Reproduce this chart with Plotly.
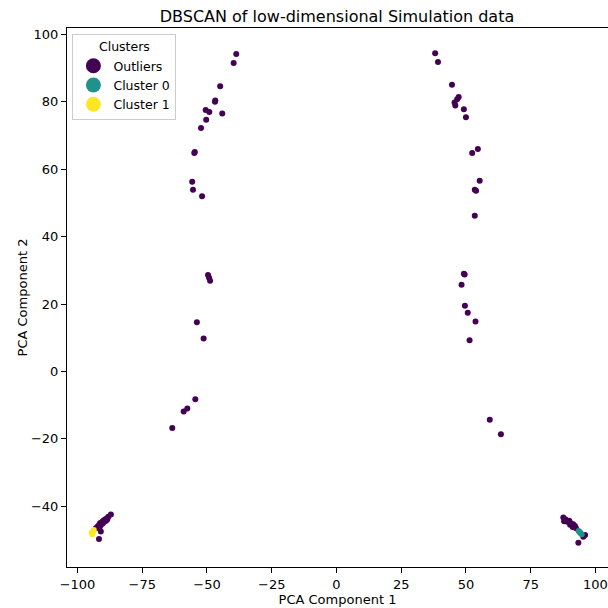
import plotly.graph_objects as go

# PCA projections of the simulation samples, grouped by DBSCAN label
outlier_x = [
    -38.7, -39.7, -44.9, -46.8, -46.9, -50.5, -49.1, -44.1, -50.3, -52.3, -54.9, -54.7,
    -55.7, -55.4, -51.9, -49.6, -49.2, -48.8, -53.9, -51.3, -54.5, -57.6, -59.0, -63.4,
    38.1, 39.2, 44.6, 47.2, 46.6, 45.6, 45.9, 49.2, 50.0, 54.6, 52.4, 55.3, 53.4, 53.9,
    53.4, 49.5, 49.2, 48.3, 49.6, 50.7, 53.7, 51.4, 59.2, 63.5,
    -87.1, -88.1, -88.7, -89.4, -90.0, -90.4, -90.9, -91.3, -89.7, -89.0, -90.7, -91.6,
    -92.0, -92.4, -92.9, -91.3, -90.2, -88.5, -91.0, -91.7,
    87.6, 88.5, 87.9, 89.1, 89.9, 90.5, 91.4, 92.1, 91.2, 90.2, 92.5, 96.0, 95.3, 93.4,
]
outlier_y = [
    94.2, 91.5, 84.6, 80.4, 80.0, 77.6, 77.0, 76.5, 74.7, 72.2, 64.8, 65.1,
    56.3, 53.9, 52.0, 28.6, 27.8, 26.9, 14.6, 9.8, -8.2, -11.0, -11.9, -16.8,
    94.4, 91.8, 85.1, 81.4, 80.8, 79.8, 78.9, 77.8, 75.4, 66.0, 64.8, 56.6, 53.9, 53.6,
    46.2, 28.8, 29.0, 25.7, 19.5, 17.4, 14.8, 9.3, -14.3, -18.6,
    -42.4, -43.1, -43.6, -43.9, -44.3, -44.6, -44.9, -45.0, -44.6, -44.3, -45.3, -45.5,
    -45.8, -46.2, -46.5, -46.0, -45.0, -43.9, -47.5, -49.7,
    -43.3, -43.9, -44.4, -44.6, -44.3, -45.0, -45.3, -45.8, -46.1, -45.5, -46.5, -48.5, -49.0, -50.8,
]

cluster0_x = [93.5, 94.2, 94.7, 93.9]
cluster0_y = [-47.3, -47.9, -48.3, -47.6]

cluster1_x = [-94.3, -94.0, -93.7, -94.5]
cluster1_y = [-48.3, -47.6, -47.0, -47.8]

labels = ["Outliers", "Cluster 0", "Cluster 1"]
colors = ["#440154", "#21918c", "#fde725"]
groups = [(outlier_x, outlier_y), (cluster0_x, cluster0_y), (cluster1_x, cluster1_y)]

fig = go.Figure()

for (gx, gy), name, col in zip(groups, labels, colors):
    fig.add_trace(go.Scatter(
        x=gx, y=gy, mode="markers", name=name, showlegend=False,
        marker=dict(color=col, size=6, line=dict(width=0)),
        hoverinfo="x+y+name",
    ))

# legend entries with enlarged symbols
for name, col in zip(labels, colors):
    fig.add_trace(go.Scatter(
        x=[None], y=[None], mode="markers", name=name, showlegend=True,
        marker=dict(color=col, size=15, line=dict(width=0)),
    ))

font = "DejaVu Sans, Arial, sans-serif"

fig.update_layout(
    width=608, height=608,
    margin=dict(l=67, r=0, t=28, b=41),
    paper_bgcolor="white", plot_bgcolor="white",
    font=dict(family=font, size=13, color="black"),
    title=dict(
        text="DBSCAN of low-dimensional Simulation data",
        x=337 / 608, xanchor="center", y=1 - 16 / 608, yanchor="middle",
        font=dict(family=font, size=16, color="black"),
    ),
    legend=dict(
        title=dict(text="Clusters", side="top center", font=dict(family=font, size=12.5)),
        x=0.01, y=0.989, xanchor="left", yanchor="top",
        bgcolor="rgba(255,255,255,0.8)", bordercolor="#cccccc", borderwidth=1,
        font=dict(family=font, size=12.5, color="black"),
        itemsizing="trace", tracegroupgap=0,
    ),
    xaxis=dict(
        range=[-104.05, 104.85], tickvals=[-100, -75, -50, -25, 0, 25, 50, 75, 100],
        ticktext=["\u2212100", "\u221275", "\u221250", "\u221225", "0", "25", "50", "75", "100"],
        showgrid=False, zeroline=False, showline=True, linecolor="black", linewidth=1,
        mirror=True, ticks="outside", ticklen=5, tickcolor="black", tickwidth=1,
        tickfont=dict(family=font, size=13),
        title=dict(text="PCA Component 1", font=dict(family=font, size=13), standoff=1),
    ),
    yaxis=dict(
        range=[-58.0, 101.9], tickvals=[-40, -20, 0, 20, 40, 60, 80, 100],
        ticktext=["\u221240", "\u221220", "0", "20", "40", "60", "80", "100"],
        showgrid=False, zeroline=False, showline=True, linecolor="black", linewidth=1,
        mirror=False, ticks="outside", ticklen=5, tickcolor="black", tickwidth=1,
        tickfont=dict(family=font, size=13),
        title=dict(text="PCA Component 2", font=dict(family=font, size=13), standoff=0),
    ),
)

fig.write_html("out.html")
